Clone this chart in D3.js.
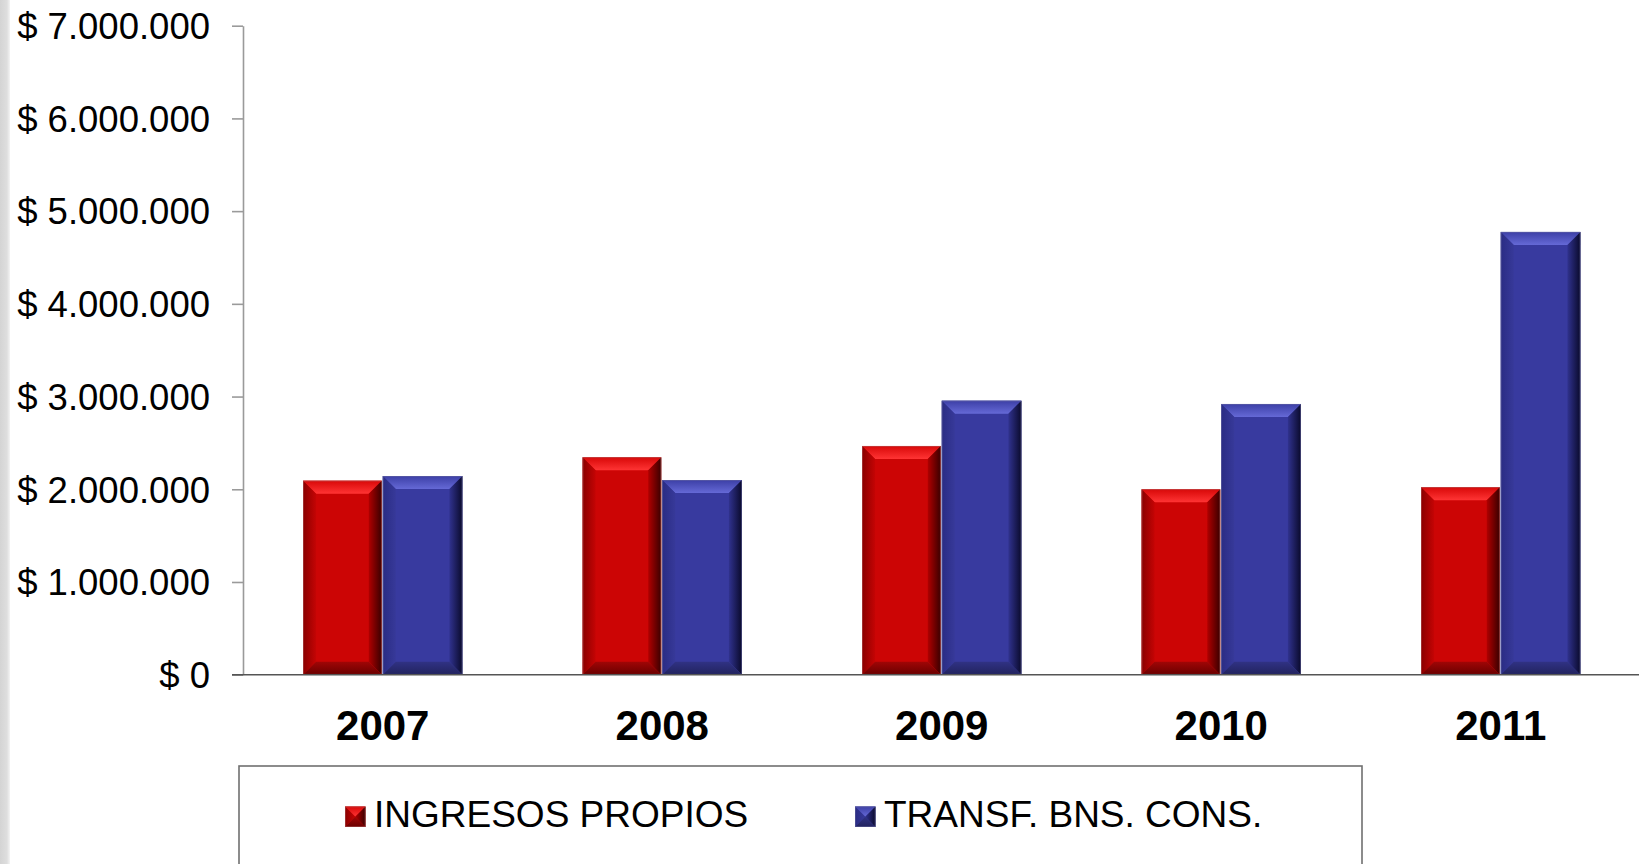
<!DOCTYPE html>
<html>
<head>
<meta charset="utf-8">
<script src="https://cdn.jsdelivr.net/npm/d3@7/dist/d3.min.js"></script>
<style>
  html, body { margin: 0; padding: 0; background: #fff; }
  svg { display: block; font-family: "Liberation Sans", Arial, sans-serif; }
</style>
</head>
<body>
<svg id="chart" width="1639" height="864"></svg>
<script>
// Years and series values (pesos)
const years = ["2007", "2008", "2009", "2010", "2011"];
const ingresosPropios = [2093000, 2345000, 2467000, 2000000, 2022000];
const transfBnsCons = [2143000, 2100000, 2956000, 2920000, 4776000];
const seriesNames = ["INGRESOS PROPIOS", "TRANSF. BNS. CONS."];
const yTicks = [0, 1000000, 2000000, 3000000, 4000000, 5000000, 6000000, 7000000];

const W = 1639, H = 864;
const plot = { left: 243, right: 1640.5, top: 25.7, bottom: 674.7 };

const svg = d3.select("#chart");
const defs = svg.append("defs");

// Gray strip on the left edge
const edge = defs.append("linearGradient").attr("id", "edgeGrad")
  .attr("x1", 0).attr("x2", 1).attr("y1", 0).attr("y2", 0);
edge.append("stop").attr("offset", "0%").attr("stop-color", "#d4d4d4");
edge.append("stop").attr("offset", "70%").attr("stop-color", "#dedede");
edge.append("stop").attr("offset", "100%").attr("stop-color", "#f4f4f4");
svg.append("rect").attr("x", 0).attr("y", 0).attr("width", 10).attr("height", H)
  .attr("fill", "url(#edgeGrad)");

// Bevel palettes for each series
const palettes = [
  { id: "r", face: "#cc0505",
    top: ["#d80808", "#ff3434"], left: ["#8a0000", "#c40404"],
    right: ["#b00000", "#3a0000"], bottom: ["#a00606", "#6a0000"], stroke: "#b06060" },
  { id: "b", face: "#383a9f",
    top: ["#3c3fa6", "#6569d6"], left: ["#2a2c84", "#373999"],
    right: ["#30328e", "#0a0a2c"], bottom: ["#303284", "#22235e"], stroke: "#6a6aa0" }
];

function grad(id, c, vertical) {
  const g = defs.append("linearGradient").attr("id", id)
    .attr("x1", 0).attr("y1", 0)
    .attr("x2", vertical ? 0 : 1).attr("y2", vertical ? 1 : 0);
  g.append("stop").attr("offset", "0%").attr("stop-color", c[0]);
  g.append("stop").attr("offset", "100%").attr("stop-color", c[1]);
}
palettes.forEach(p => {
  grad(p.id + "Top", p.top, true);
  grad(p.id + "Left", p.left, false);
  grad(p.id + "Right", p.right, false);
  grad(p.id + "Bottom", p.bottom, true);
});

// Draw a bevelled box into group g
function bevelBox(g, x, y, w, h, p, bMax) {
  const b = Math.max(0, Math.min(bMax, h / 2, w / 2));
  g.append("rect").attr("x", x).attr("y", y).attr("width", w).attr("height", h)
    .attr("fill", p.face);
  const pts = a => a.map(q => q.join(",")).join(" ");
  g.append("polygon").attr("points", pts([[x, y], [x + w, y], [x + w - b, y + b], [x + b, y + b]]))
    .attr("fill", `url(#${p.id}Top)`);
  g.append("polygon").attr("points", pts([[x, y], [x + b, y + b], [x + b, y + h - b], [x, y + h]]))
    .attr("fill", `url(#${p.id}Left)`);
  g.append("polygon").attr("points", pts([[x + w, y], [x + w, y + h], [x + w - b, y + h - b], [x + w - b, y + b]]))
    .attr("fill", `url(#${p.id}Right)`);
  g.append("polygon").attr("points", pts([[x, y + h], [x + b, y + h - b], [x + w - b, y + h - b], [x + w, y + h]]))
    .attr("fill", `url(#${p.id}Bottom)`);
  g.append("rect").attr("x", x + 0.4).attr("y", y + 0.4).attr("width", w - 0.8).attr("height", h - 0.8)
    .attr("fill", "none").attr("stroke", p.stroke).attr("stroke-width", 0.8).attr("stroke-opacity", 0.6);
}

// Scales
const x0 = d3.scaleBand().domain(years).range([plot.left, plot.right]).paddingInner(0.43).paddingOuter(0.215);
const x1 = d3.scaleBand().domain([0, 1]).range([0, x0.bandwidth()]).padding(0);
const y = d3.scaleLinear().domain([0, 7000000]).range([plot.bottom, plot.top]);

const locale = d3.formatLocale({ decimal: ",", thousands: ".", grouping: [3], currency: ["$ ", ""] });
const fmt = locale.format("$,.0f");

// Y axis
const yAxis = svg.append("g").attr("transform", `translate(${plot.left},0)`)
  .call(d3.axisLeft(y).tickValues(yTicks).tickFormat(fmt).tickSize(11).tickSizeOuter(0).tickPadding(22));
yAxis.select(".domain").attr("stroke", "#9a9a9a").attr("stroke-width", 1.6);
yAxis.selectAll(".tick line").attr("stroke", "#9a9a9a").attr("stroke-width", 1.6);
yAxis.selectAll(".tick text").attr("font-size", 36.5).attr("fill", "#000")
  .attr("font-family", "Liberation Sans, Arial, sans-serif").attr("dy", "0.35em");

// Bars
const series = [ingresosPropios, transfBnsCons];
const bars = svg.append("g");
years.forEach((yr, i) => {
  series.forEach((vals, s) => {
    const bx = x0(yr) + x1(s);
    const by = y(vals[i]);
    bevelBox(bars, bx, by, x1.bandwidth() - (s === 0 ? 1 : 0), y(0) - by, palettes[s], 13);
  });
});

// X axis (baseline and year labels)
const xAxis = svg.append("g").attr("transform", `translate(0,${plot.bottom})`)
  .call(d3.axisBottom(x0).tickSize(0).tickPadding(35.5));
xAxis.select(".domain").remove();
xAxis.selectAll(".tick text").attr("font-size", 42).attr("font-weight", "bold").attr("fill", "#000")
  .attr("font-family", "Liberation Sans, Arial, sans-serif");
svg.append("line").attr("x1", plot.left - 11).attr("x2", W).attr("y1", plot.bottom).attr("y2", plot.bottom)
  .attr("stroke", "#555").attr("stroke-width", 1.6);

// Legend
const legend = svg.append("g");
legend.append("rect").attr("x", 239).attr("y", 766).attr("width", 1123).attr("height", 120)
  .attr("fill", "#fff").attr("stroke", "#707070").attr("stroke-width", 1.6);
const legendX = [345, 855];
seriesNames.forEach((name, s) => {
  const gx = legendX[s];
  bevelBox(legend, gx, 806.5, 20.5, 20.5, palettes[s], 10.25);
  legend.append("text").attr("x", gx + 29).attr("y", 827.3)
    .attr("font-size", 37).attr("fill", "#000").text(name);
});
</script>
</body>
</html>
